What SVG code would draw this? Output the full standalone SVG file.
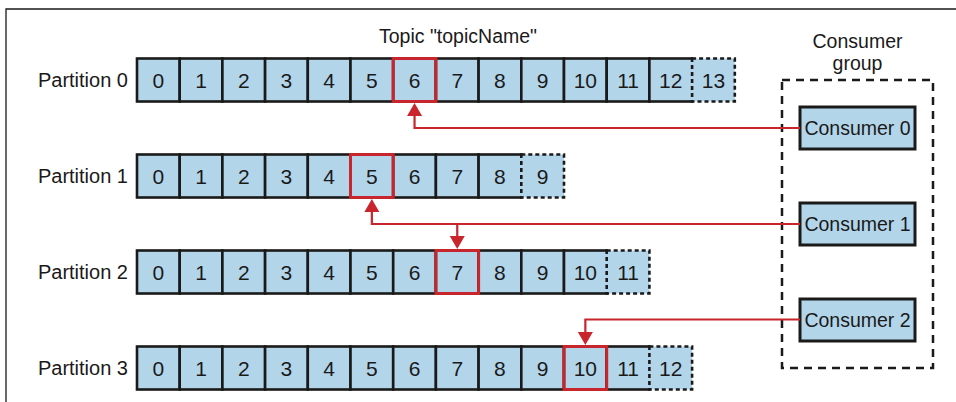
<svg xmlns="http://www.w3.org/2000/svg" width="956" height="402" viewBox="0 0 956 402">
<style>
text{font-family:"Liberation Sans",Arial,sans-serif;fill:#1a1a1a;font-size:20px}
.n{text-anchor:middle;font-size:21px}
.t{text-anchor:middle;font-size:19.5px}
.lbl{text-anchor:end}
.c{fill:#b3d5ea;stroke:#1a1a1a;stroke-width:2.6}
.d{fill:#b3d5ea;stroke:#1a1a1a;stroke-width:2.6;stroke-dasharray:4 3}
.cov{fill:#b3d5ea;stroke:none}
.hl{fill:none;stroke:#c9252c;stroke-width:3}
.cons{fill:#b3d5ea;stroke:#1a1a1a;stroke-width:3}
.grp{fill:none;stroke:#1a1a1a;stroke-width:2.5;stroke-dasharray:8 6}
.ln{fill:none;stroke:#c9252c;stroke-width:2.2}
</style>
<defs>
<marker id="ah" markerUnits="userSpaceOnUse" markerWidth="14" markerHeight="16" refX="1" refY="7.5" orient="auto" viewBox="0 0 14 15">
<path d="M0,0 L13,7.5 L0,15 z" fill="#c9252c"/>
</marker>
</defs>
<path d="M6,402 V9 H956" fill="none" stroke="#1a1a1a" stroke-width="1.3"/>
<text x="458" y="43" class="t">Topic "topicName"</text>

<g id="partition0">
<text x="128" y="87" class="lbl">Partition 0</text>
<rect class="c" x="137" y="58.5" width="42.7" height="43"/>
<rect class="c" x="179.7" y="58.5" width="42.7" height="43"/>
<rect class="c" x="222.4" y="58.5" width="42.7" height="43"/>
<rect class="c" x="265.1" y="58.5" width="42.7" height="43"/>
<rect class="c" x="307.8" y="58.5" width="42.7" height="43"/>
<rect class="c" x="350.5" y="58.5" width="42.7" height="43"/>
<rect class="c" x="393.2" y="58.5" width="42.7" height="43"/>
<rect class="c" x="435.9" y="58.5" width="42.7" height="43"/>
<rect class="c" x="478.6" y="58.5" width="42.7" height="43"/>
<rect class="c" x="521.3" y="58.5" width="42.7" height="43"/>
<rect class="c" x="564" y="58.5" width="42.7" height="43"/>
<rect class="c" x="606.7" y="58.5" width="42.7" height="43"/>
<rect class="c" x="649.4" y="58.5" width="42.7" height="43"/>
<rect class="cov" x="690.1" y="60" width="4" height="40"/>
<rect class="d" x="692.1" y="58.5" width="42.7" height="43"/>
<rect class="hl" x="393.2" y="58.5" width="42.7" height="43"/>
<text x="158.35" y="87.5" class="n">0</text>
<text x="201.05" y="87.5" class="n">1</text>
<text x="243.75" y="87.5" class="n">2</text>
<text x="286.45" y="87.5" class="n">3</text>
<text x="329.15" y="87.5" class="n">4</text>
<text x="371.85" y="87.5" class="n">5</text>
<text x="414.55" y="87.5" class="n">6</text>
<text x="457.25" y="87.5" class="n">7</text>
<text x="499.95" y="87.5" class="n">8</text>
<text x="542.65" y="87.5" class="n">9</text>
<text x="585.35" y="87.5" class="n">10</text>
<text x="628.05" y="87.5" class="n">11</text>
<text x="670.75" y="87.5" class="n">12</text>
<text x="713.45" y="87.5" class="n">13</text>
</g>

<g id="partition1">
<text x="128" y="183" class="lbl">Partition 1</text>
<rect class="c" x="137" y="154.5" width="42.7" height="43"/>
<rect class="c" x="179.7" y="154.5" width="42.7" height="43"/>
<rect class="c" x="222.4" y="154.5" width="42.7" height="43"/>
<rect class="c" x="265.1" y="154.5" width="42.7" height="43"/>
<rect class="c" x="307.8" y="154.5" width="42.7" height="43"/>
<rect class="c" x="350.5" y="154.5" width="42.7" height="43"/>
<rect class="c" x="393.2" y="154.5" width="42.7" height="43"/>
<rect class="c" x="435.9" y="154.5" width="42.7" height="43"/>
<rect class="c" x="478.6" y="154.5" width="42.7" height="43"/>
<rect class="cov" x="519.3" y="156" width="4" height="40"/>
<rect class="d" x="521.3" y="154.5" width="42.7" height="43"/>
<rect class="hl" x="350.5" y="154.5" width="42.7" height="43"/>
<text x="158.35" y="183.5" class="n">0</text>
<text x="201.05" y="183.5" class="n">1</text>
<text x="243.75" y="183.5" class="n">2</text>
<text x="286.45" y="183.5" class="n">3</text>
<text x="329.15" y="183.5" class="n">4</text>
<text x="371.85" y="183.5" class="n">5</text>
<text x="414.55" y="183.5" class="n">6</text>
<text x="457.25" y="183.5" class="n">7</text>
<text x="499.95" y="183.5" class="n">8</text>
<text x="542.65" y="183.5" class="n">9</text>
</g>

<g id="partition2">
<text x="128" y="279" class="lbl">Partition 2</text>
<rect class="c" x="137" y="250.5" width="42.7" height="43"/>
<rect class="c" x="179.7" y="250.5" width="42.7" height="43"/>
<rect class="c" x="222.4" y="250.5" width="42.7" height="43"/>
<rect class="c" x="265.1" y="250.5" width="42.7" height="43"/>
<rect class="c" x="307.8" y="250.5" width="42.7" height="43"/>
<rect class="c" x="350.5" y="250.5" width="42.7" height="43"/>
<rect class="c" x="393.2" y="250.5" width="42.7" height="43"/>
<rect class="c" x="435.9" y="250.5" width="42.7" height="43"/>
<rect class="c" x="478.6" y="250.5" width="42.7" height="43"/>
<rect class="c" x="521.3" y="250.5" width="42.7" height="43"/>
<rect class="c" x="564" y="250.5" width="42.7" height="43"/>
<rect class="cov" x="604.7" y="252" width="4" height="40"/>
<rect class="d" x="606.7" y="250.5" width="42.7" height="43"/>
<rect class="hl" x="435.9" y="250.5" width="42.7" height="43"/>
<text x="158.35" y="279.5" class="n">0</text>
<text x="201.05" y="279.5" class="n">1</text>
<text x="243.75" y="279.5" class="n">2</text>
<text x="286.45" y="279.5" class="n">3</text>
<text x="329.15" y="279.5" class="n">4</text>
<text x="371.85" y="279.5" class="n">5</text>
<text x="414.55" y="279.5" class="n">6</text>
<text x="457.25" y="279.5" class="n">7</text>
<text x="499.95" y="279.5" class="n">8</text>
<text x="542.65" y="279.5" class="n">9</text>
<text x="585.35" y="279.5" class="n">10</text>
<text x="628.05" y="279.5" class="n">11</text>
</g>

<g id="partition3">
<text x="128" y="375" class="lbl">Partition 3</text>
<rect class="c" x="137" y="346.5" width="42.7" height="43"/>
<rect class="c" x="179.7" y="346.5" width="42.7" height="43"/>
<rect class="c" x="222.4" y="346.5" width="42.7" height="43"/>
<rect class="c" x="265.1" y="346.5" width="42.7" height="43"/>
<rect class="c" x="307.8" y="346.5" width="42.7" height="43"/>
<rect class="c" x="350.5" y="346.5" width="42.7" height="43"/>
<rect class="c" x="393.2" y="346.5" width="42.7" height="43"/>
<rect class="c" x="435.9" y="346.5" width="42.7" height="43"/>
<rect class="c" x="478.6" y="346.5" width="42.7" height="43"/>
<rect class="c" x="521.3" y="346.5" width="42.7" height="43"/>
<rect class="c" x="564" y="346.5" width="42.7" height="43"/>
<rect class="c" x="606.7" y="346.5" width="42.7" height="43"/>
<rect class="cov" x="647.4" y="348" width="4" height="40"/>
<rect class="d" x="649.4" y="346.5" width="42.7" height="43"/>
<rect class="hl" x="564" y="346.5" width="42.7" height="43"/>
<text x="158.35" y="375.5" class="n">0</text>
<text x="201.05" y="375.5" class="n">1</text>
<text x="243.75" y="375.5" class="n">2</text>
<text x="286.45" y="375.5" class="n">3</text>
<text x="329.15" y="375.5" class="n">4</text>
<text x="371.85" y="375.5" class="n">5</text>
<text x="414.55" y="375.5" class="n">6</text>
<text x="457.25" y="375.5" class="n">7</text>
<text x="499.95" y="375.5" class="n">8</text>
<text x="542.65" y="375.5" class="n">9</text>
<text x="585.35" y="375.5" class="n">10</text>
<text x="628.05" y="375.5" class="n">11</text>
<text x="670.75" y="375.5" class="n">12</text>
</g>

<g id="consumer-group">
<text x="857.5" y="48" class="t">Consumer</text>
<text x="857.5" y="70" class="t">group</text>
<rect class="grp" x="782" y="80" width="151" height="288"/>
</g>
<g id="consumer0">
<rect class="cons" x="800" y="107" width="115" height="42"/>
<text x="857.5" y="135" class="t">Consumer 0</text>
</g>
<g id="consumer1">
<rect class="cons" x="800" y="203" width="115" height="42"/>
<text x="857.5" y="231" class="t">Consumer 1</text>
</g>
<g id="consumer2">
<rect class="cons" x="800" y="299" width="115" height="42"/>
<text x="857.5" y="327" class="t">Consumer 2</text>
</g>

<g id="connectors">
<path class="ln" d="M800,128 H414.55 V115" marker-end="url(#ah)"/>
<path class="ln" d="M800,224 H371.85 V211" marker-end="url(#ah)"/>
<path class="ln" d="M457.25,224 V237" marker-end="url(#ah)"/>
<path class="ln" d="M800,319.5 H585.35 V333" marker-end="url(#ah)"/>
</g>
</svg>
